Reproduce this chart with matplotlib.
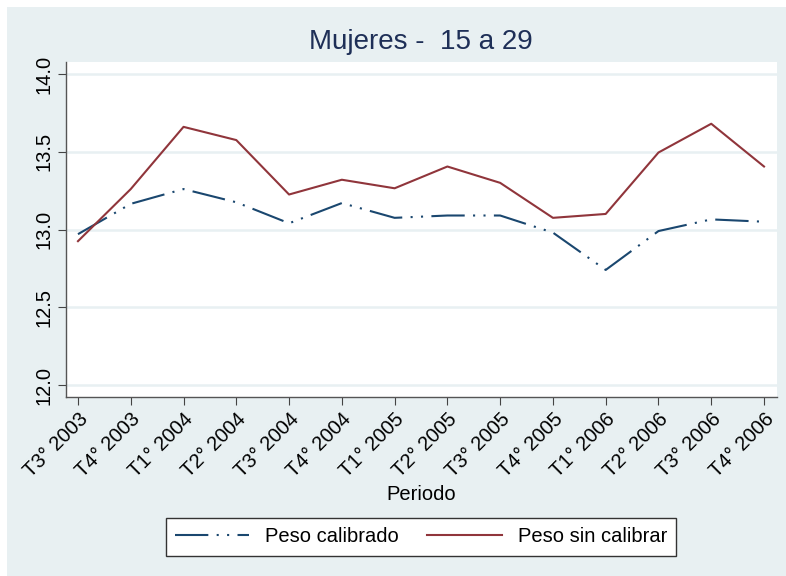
import matplotlib.pyplot as plt
import matplotlib.patches as mpatches

plt.rcParams['font.family'] = ['Liberation Sans', 'DejaVu Sans']

# Periodos (trimestres)
periodos = ["T3° 2003", "T4° 2003", "T1° 2004", "T2° 2004", "T3° 2004",
            "T4° 2004", "T1° 2005", "T2° 2005", "T3° 2005", "T4° 2005",
            "T1° 2006", "T2° 2006", "T3° 2006", "T4° 2006"]

# Series
peso_calibrado = [12.97, 13.165, 13.26, 13.175, 13.04, 13.17, 13.075,
                  13.09, 13.09, 12.98, 12.74, 12.99, 13.065, 13.05]
peso_sin_calibrar = [12.925, 13.26, 13.66, 13.575, 13.225, 13.32, 13.265,
                     13.405, 13.30, 13.075, 13.10, 13.495, 13.68, 13.405]

y_ticks = [12.0, 12.5, 13.0, 13.5, 14.0]

fondo = "#e8f0f2"
azul = "#1a476f"
rojo = "#90353b"
tam = 14.5

fig = plt.figure(figsize=(7.86, 5.76), dpi=100, facecolor="white")

# Fondo de la región del gráfico (borde blanco arriba/izquierda)
fig.patches.append(mpatches.Rectangle((7 / 786, 0), 1, 1 - 7 / 576,
                                      transform=fig.transFigure,
                                      facecolor=fondo, edgecolor="none",
                                      zorder=-10))

ax = fig.add_axes([66 / 786, 1 - 397 / 576, (777 - 66) / 786, (397 - 62) / 576])
ax.set_facecolor("white")

x = range(len(periodos))
ax.plot(x, peso_calibrado, color=azul, linewidth=1.5,
        dashes=(16, 4, 1, 4, 1, 4), label="Peso calibrado")
ax.plot(x, peso_sin_calibrar, color=rojo, linewidth=1.5,
        label="Peso sin calibrar")

ax.set_ylim(11.923, 14.077)
ax.set_xlim(-0.227, 13.246)
ax.set_yticks(y_ticks)
ax.set_yticklabels([f"{v:.1f}" for v in y_ticks], rotation=90, va="center",
                   fontsize=tam)
ax.set_xticks(list(x))
ax.set_xticklabels(periodos, rotation=45, ha="right", rotation_mode="anchor",
                   fontsize=tam)
ax.tick_params(direction="out", length=6, color="#444444", width=0.8, pad=3)
ax.grid(axis="y", color=fondo, linewidth=1.8)
ax.set_axisbelow(True)

for lado in ["top", "right"]:
    ax.spines[lado].set_visible(False)
for lado in ["left", "bottom"]:
    ax.spines[lado].set_color("#555555")
    ax.spines[lado].set_linewidth(1.0)

# Eje x y título
fig.text(421 / 786, 1 - 494 / 576, "Periodo", ha="center", va="center",
         fontsize=tam)
fig.text(421 / 786, 1 - 42 / 576, "Mujeres -  15 a 29", ha="center",
         va="center", fontsize=20, color="#1e2f57")

leg = fig.legend(loc="center", bbox_to_anchor=(421 / 786, 1 - 537 / 576),
                 ncol=2, fontsize=tam, frameon=True, fancybox=False,
                 framealpha=1, facecolor="white", edgecolor="#333333",
                 handlelength=3.7, handletextpad=0.8, columnspacing=1.4,
                 borderpad=0.45, borderaxespad=0)
leg.get_frame().set_linewidth(1.0)

fig.savefig("out.png", dpi=100, facecolor=fig.get_facecolor())
